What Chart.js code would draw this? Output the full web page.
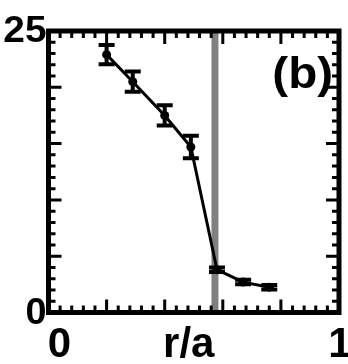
<!DOCTYPE html>
<html><head><meta charset="utf-8">
<style>html,body{margin:0;padding:0;background:#fff;overflow:hidden}</style>
<script src="https://cdn.jsdelivr.net/npm/chart.js@4.4.1/dist/chart.umd.min.js"></script>
</head><body>
<canvas id="c" width="348" height="364" style="display:block;width:348px;height:364px"></canvas>
<script>
// ---- data ----
const rOverA   = [0.20, 0.29, 0.40, 0.49, 0.58, 0.67, 0.76];
const value    = [22.9, 20.5, 17.5, 14.7, 3.8, 2.7, 2.25];
const errorBar = [0.85, 0.9, 0.9, 1.0, 0.2, 0.2, 0.2];
const separatrixR = 0.573;
const xRange = [0, 1];
const yRange = [0, 25];
const xTickValues = [0, 0.5, 1];
const xTickLabels = ['0', 'r/a', '1'];
const yTickValues = [0, 25];
const yTickLabels = ['0', '25'];
const panelLabel = '(b)';

const FONT = '"Liberation Sans", Arial, sans-serif';

function stretchedText(ctx, txt, x, y, size, sx, align) {
  ctx.save();
  ctx.font = 'bold ' + size + 'px ' + FONT;
  ctx.textAlign = align;
  ctx.textBaseline = 'alphabetic';
  ctx.translate(x, y);
  ctx.scale(sx, 1);
  ctx.fillText(txt, 0, 0);
  ctx.restore();
}

const framePlugin = {
  id: 'frame',
  afterDatasetsDraw(chart) {
    const ctx = chart.ctx, xs = chart.scales.x, ys = chart.scales.y, a = chart.chartArea;
    ctx.save();
    // error bars
    ctx.strokeStyle = '#000';
    ctx.lineWidth = 4;
    ctx.lineCap = 'butt';
    for (let i = 0; i < rOverA.length; i++) {
      const px = xs.getPixelForValue(rOverA[i]);
      const y1 = ys.getPixelForValue(value[i] + errorBar[i]);
      const y2 = ys.getPixelForValue(value[i] - errorBar[i]);
      ctx.beginPath();
      ctx.moveTo(px, y1 - 2); ctx.lineTo(px, y2 + 2);
      ctx.moveTo(px - 8, y1); ctx.lineTo(px + 8, y1);
      ctx.moveTo(px - 8, y2); ctx.lineTo(px + 8, y2);
      ctx.stroke();
    }
    // frame
    ctx.lineWidth = 5;
    ctx.strokeRect(a.left, a.top, a.right - a.left, a.bottom - a.top);
    // inward ticks
    ctx.lineWidth = 3;
    const n = 25;
    ctx.beginPath();
    for (let i = 1; i < n; i++) {
      const len = (i % 5 === 0) ? 13 : 7;
      const xv = xRange[0] + (xRange[1] - xRange[0]) * i / n;
      const px = xs.getPixelForValue(xv);
      ctx.moveTo(px, a.bottom); ctx.lineTo(px, a.bottom - len);
      ctx.moveTo(px, a.top); ctx.lineTo(px, a.top + len);
      const yv = yRange[0] + (yRange[1] - yRange[0]) * i / n;
      const py = ys.getPixelForValue(yv);
      ctx.moveTo(a.left, py); ctx.lineTo(a.left + len, py);
      ctx.moveTo(a.right, py); ctx.lineTo(a.right - len, py);
    }
    ctx.stroke();
    // labels
    ctx.fillStyle = '#000';
    yTickValues.forEach((v, i) => {
      const py = ys.getPixelForValue(v);
      const size = (v === yRange[1]) ? 37 : 36;
      stretchedText(ctx, yTickLabels[i], a.left - 2, py + 11, size, 1.05, 'right');
    });
    const xOff = [11, -5, 1];
    xTickValues.forEach((v, i) => {
      const px = xs.getPixelForValue(v) + xOff[i];
      stretchedText(ctx, xTickLabels[i], px, a.bottom + 44, 42, 1.0, 'center');
    });
    stretchedText(ctx, panelLabel, a.right - 6, a.top + 57, 44, 1.08, 'right');
    ctx.restore();
  }
};

new Chart(document.getElementById('c'), {
  type: 'scatter',
  data: {
    datasets: [
      {
        label: 'profile',
        data: rOverA.map((x, i) => ({ x: x, y: value[i] })),
        showLine: true,
        borderColor: '#000',
        borderWidth: 3,
        pointRadius: 4.5,
        pointBackgroundColor: '#000',
        pointBorderColor: '#000',
        pointBorderWidth: 0,
        tension: 0,
        order: 0
      },
      {
        label: 'separatrix',
        data: [{ x: separatrixR, y: yRange[0] }, { x: separatrixR, y: yRange[1] }],
        showLine: true,
        borderColor: '#808080',
        borderWidth: 7,
        borderCapStyle: 'butt',
        pointRadius: 0,
        order: 1
      }
    ]
  },
  options: {
    responsive: false,
    animation: false,
    devicePixelRatio: 1,
    layout: { padding: { left: 48.5, right: 9, top: 31, bottom: 51.5 } },
    scales: {
      x: { type: 'linear', min: xRange[0], max: xRange[1], display: false },
      y: { type: 'linear', min: yRange[0], max: yRange[1], display: false }
    },
    plugins: { legend: { display: false }, tooltip: { enabled: false } }
  },
  plugins: [framePlugin]
});
</script>
</body></html>
